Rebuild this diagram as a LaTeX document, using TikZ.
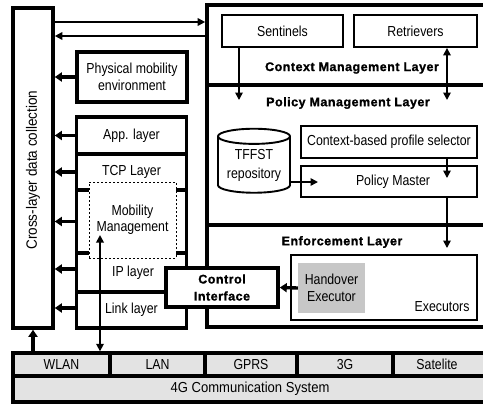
\documentclass[tikz,border=0pt]{standalone}
\usepackage{fontspec}
\setmainfont{Liberation Sans}[FakeStretch=0.85]
\newfontfamily\bfam{Liberation Sans}[LetterSpace=4, BoldFeatures={FakeBold=1.2}]
\newfontfamily\widefam{Liberation Sans}[FakeStretch=0.9]
\usetikzlibrary{arrows.meta,shapes.geometric}
\begin{document}
\begin{tikzpicture}[x=1pt,y=-1pt,
  lbl/.style={font=\fontsize{14.5}{17}\selectfont, align=center},
  blbl/.style={font=\bfam\bfseries\fontsize{12.5}{17}\selectfont, align=center},
  thickbox/.style={draw, line width=3.6pt, fill=white, inner sep=0pt},
  thinbox/.style={draw, line width=1.9pt, fill=white, inner sep=0pt},
  netbox/.style={draw, line width=3.4pt, fill=black!11, inner sep=0pt},
  divider/.style={line width=3.6pt},
  arr/.style={-{Triangle[width=7.5pt,length=7.5pt]}, line width=1.7pt},
  darr/.style={{Triangle[width=7.5pt,length=7.5pt]}-{Triangle[width=7.5pt,length=7.5pt]}, line width=1.7pt},
  tarr/.style={-{Triangle[width=9pt,length=7pt]}, line width=3.4pt}]
\clip (0,0) rectangle (483,405);
\fill[white] (0,0) rectangle (483,405);

% cross-layer column
\node[thickbox, minimum width=40pt, minimum height=320pt] (cross) at (33,168) {};
\node[font=\widefam\fontsize{15}{17}\selectfont, rotate=90] (crosstxt) at (33,170) {Cross-layer data collection};

% big right box
\node[thickbox, minimum width=283pt, minimum height=322pt] (big) at (348.5,166) {};
\coordinate (d1) at (0,85);
\coordinate (d2) at (0,225);
\draw[divider] (big.west |- d1) -- (big.east |- d1);
\draw[divider] (big.west |- d2) -- (big.east |- d2);

% context management layer
\node[thinbox, lbl, minimum width=121pt, minimum height=32pt] (sent) at (282.5,31) {Sentinels};
\node[thinbox, lbl, minimum width=123pt, minimum height=32pt] (retr) at (415.5,31) {Retrievers};
\node[blbl] (cml) at (352,68) {Context Management Layer};
\node[blbl] (pml) at (348,103) {Policy Management Layer};
\node[blbl] (enl) at (342,242) {Enforcement Layer};

% policy management
\node[draw, line width=1.9pt, fill=white, cylinder, shape border rotate=90, aspect=0.28,
      minimum width=72pt, minimum height=64pt, inner sep=0pt,
      font=\fontsize{14.5}{19}\selectfont, align=center] (tffst) at (254,165) {TFFST\\repository};
\node[thinbox, lbl, minimum width=176pt, minimum height=32pt] (sel) at (389,142) {Context-based profile selector};
\node[thinbox, lbl, minimum width=176pt, minimum height=31pt] (pm) at (389,181.5) {};
\node[lbl] (pmtxt) at (393,181.5) {Policy Master};

% enforcement
\node[thinbox, minimum width=186pt, minimum height=65pt] (exec) at (384,287.5) {};
\node[lbl, anchor=south east] (exectxt) at ([shift={(-5pt,6pt)}]exec.south east) {Executors};
\node[fill=black!22, lbl, minimum width=67pt, minimum height=50pt, inner sep=0pt] (hand) at (331.5,288) {Handover\\Executor};

% left side
\node[thickbox, lbl, minimum width=110pt, minimum height=50pt] (phys) at (132,77) {Physical mobility\\environment};
\node[thickbox, lbl, minimum width=110pt, minimum height=37pt] (app) at (131.5,135.5) {App. layer};
\node[thickbox, minimum width=110pt, minimum height=36pt] (tcp) at (131.5,172) {};
\node[thickbox, minimum width=110pt, minimum height=63pt] (mid) at (131.5,221.5) {};
\node[thickbox, minimum width=110pt, minimum height=39pt] (ip) at (131.5,272.5) {};
\node[thickbox, minimum width=110pt, minimum height=36pt] (link) at (131.5,310) {};
\node[lbl] (tcptxt) at (131.5,172) {TCP Layer};
\node[draw, line width=1pt, dash pattern=on 2pt off 2pt, fill=white,
      font=\fontsize{14.5}{16}\selectfont, align=center,
      minimum width=87pt, minimum height=76pt, inner sep=0pt] (mob) at (132.5,220) {Mobility\\Management};
\node[lbl] (iptxt) at (133,272.5) {IP layer};
\node[lbl] (linktxt) at (131.5,310) {Link layer};
\node[thickbox, blbl, minimum width=112pt, minimum height=39pt] (ci) at (222,287.5) {Control\\Interface};

% 4G bar
\node[netbox, lbl, minimum width=97pt, minimum height=23pt] (wlan) at (61.5,364.5) {WLAN};
\node[netbox, lbl, minimum width=95pt, minimum height=23pt] (lan) at (157.5,364.5) {LAN};
\node[netbox, lbl, minimum width=92pt, minimum height=23pt] (gprs) at (251,364.5) {GPRS};
\node[netbox, lbl, minimum width=96pt, minimum height=23pt] (g3) at (345,364.5) {3G};
\node[netbox, minimum width=97pt, minimum height=23pt] (sat) at (441.5,364.5) {};
\node[lbl] (sattxt) at (437,364.5) {Satelite};
\node[netbox, minimum width=477pt, minimum height=26pt] (comm) at (251.5,389) {};
\node[font=\widefam\fontsize{14.5}{17}\selectfont] (commtxt) at (250,389) {4G Communication System};

% arrows: column <-> big box
\coordinate (t1) at (0,22);
\coordinate (t2) at (0,36);
\draw[arr] (cross.east |- t1) -- (big.west |- t1);
\draw[arr] (big.west |- t2) -- (cross.east |- t2);

% arrows into cross-layer column
\draw[tarr] (phys.west) -- (phys.west -| cross.east);
\draw[tarr] (app.west) -- (app.west -| cross.east);
\draw[tarr] (tcp.west) -- (tcp.west -| cross.east);
\draw[tarr] (mid.west) -- (mid.west -| cross.east);
\coordinate (ipa) at (0,269);
\coordinate (linka) at (0,308);
\draw[tarr] (ip.west |- ipa) -- (cross.east |- ipa);
\draw[tarr] (link.west |- linka) -- (cross.east |- linka);
\draw[tarr] (cross.south |- wlan.north) -- (cross.south);

% mobility double arrow
\coordinate (mobtip) at (100,235);
\draw[darr] (mobtip) -- (mobtip |- wlan.north);

% right side arrows
\coordinate (sentend) at (239,100);
\draw[arr] (sent.south -| sentend) -- (sentend);
\coordinate (retrend) at (447,100);
\draw[darr] (retr.south -| retrend) -- (retrend);
\coordinate (pmtip) at (318,182);
\draw[arr] (tffst.east |- pmtip) -- (pmtip);
\coordinate (pmin) at (447,178);
\draw[arr] (sel.south -| pmin) -- (pmin);
\coordinate (enfin) at (447,248);
\draw[arr] (pm.south -| enfin) -- (enfin);
\draw[tarr] (hand.west) -- (ci.east);
\end{tikzpicture}
\end{document}
